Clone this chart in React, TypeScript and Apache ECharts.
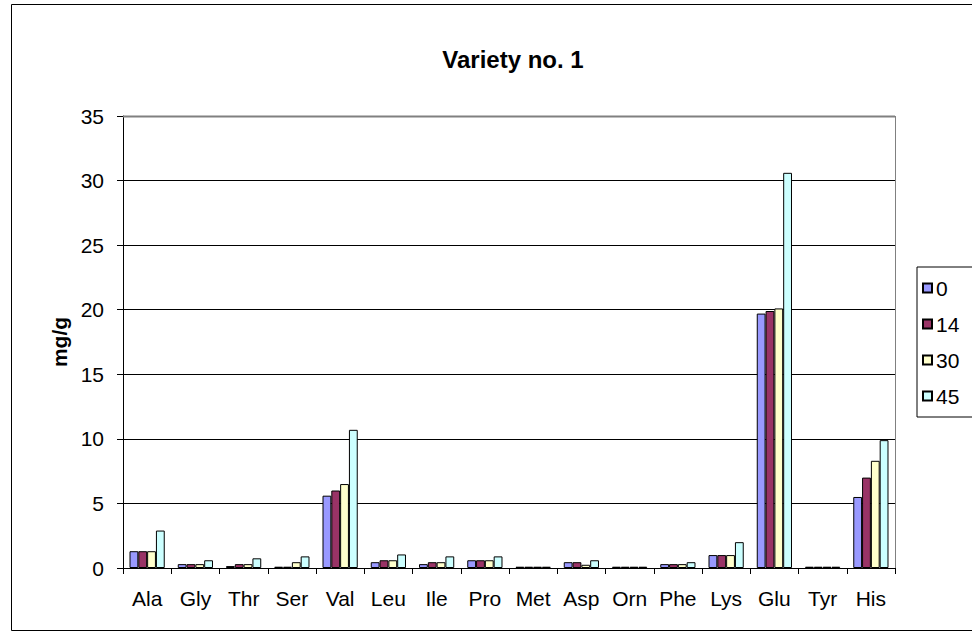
import React, { useEffect, useRef } from "react";
import * as echarts from "echarts";

const categories = ["Ala", "Gly", "Thr", "Ser", "Val", "Leu", "Ile", "Pro", "Met", "Asp", "Orn", "Phe", "Lys", "Glu", "Tyr", "His"];
const seriesNames = ["0", "14", "30", "45"];
const s0 = [1.3, 0.3, 0.15, 0.1, 5.6, 0.45, 0.3, 0.6, 0.1, 0.45, 0.1, 0.3, 1.0, 19.7, 0.1, 5.5];
const s14 = [1.3, 0.3, 0.3, 0.1, 6.0, 0.6, 0.45, 0.6, 0.1, 0.45, 0.1, 0.3, 1.0, 19.9, 0.1, 7.0];
const s30 = [1.3, 0.3, 0.3, 0.45, 6.5, 0.6, 0.45, 0.6, 0.1, 0.25, 0.1, 0.3, 1.0, 20.1, 0.1, 8.3];
const s45 = [2.9, 0.6, 0.75, 0.9, 10.7, 1.05, 0.9, 0.9, 0.1, 0.6, 0.1, 0.45, 2.0, 30.6, 0.1, 9.9];
const seriesValues = [s0, s14, s30, s45];
const colors = ["#9999FF", "#993366", "#FFFFCC", "#CCFFFF"];
const yTicks = { min: 0, max: 35, interval: 5 };

export default function App() {
  const ref = useRef<HTMLDivElement>(null);
  useEffect(() => {
    document.body.style.margin = "0";
    const chart = echarts.init(ref.current!, null, { renderer: "svg" });
    const font = "Liberation Sans, Arial, sans-serif";
    chart.setOption({
      animation: false,
      backgroundColor: "#ffffff",
      textStyle: { fontFamily: font },
      title: {
        text: "Variety no. 1",
        left: 508,
        textAlign: "center",
        top: 42,
        textStyle: { fontFamily: font, fontSize: 24, fontWeight: "bold", color: "#000" },
      },
      grid: { left: 123, top: 116, right: 77, bottom: 68, containLabel: false, show: false },
      legend: {
        orient: "vertical",
        left: 917,
        top: 267,
        data: seriesNames,
        itemWidth: 9,
        itemHeight: 9,
        itemGap: 14,
        icon: "rect",
        padding: [10, 40, 10, 5],
        borderColor: "#000",
        borderWidth: 1,
        textStyle: { fontFamily: font, fontSize: 21, color: "#000", lineHeight: 22, padding: [0, 0, 0, -1] },
      },
      xAxis: {
        type: "category",
        data: categories,
        axisLine: { lineStyle: { color: "#000", width: 1 } },
        axisTick: { show: true, length: 6, lineStyle: { color: "#000" } },
        axisLabel: { fontFamily: font, fontSize: 21, color: "#000", margin: 20, interval: 0, hideOverlap: false },
      },
      yAxis: {
        type: "value",
        min: yTicks.min,
        max: yTicks.max,
        interval: yTicks.interval,
        name: "mg/g",
        nameLocation: "middle",
        nameGap: 52,
        nameTextStyle: { fontFamily: font, fontSize: 21, fontWeight: "bold", color: "#000" },
        axisLine: { show: true, lineStyle: { color: "#000", width: 1 } },
        axisTick: { show: true, length: 6, lineStyle: { color: "#000" } },
        axisLabel: { fontFamily: font, fontSize: 21, color: "#000", margin: 19 },
        splitLine: { show: true, lineStyle: { color: "#000", width: 1 } },
      },
      graphic: [
        { type: "rect", left: 9, top: 2, shape: { x: 0, y: 0, width: 990, height: 626 }, style: { fill: "none", stroke: "#000", lineWidth: 1 }, silent: true, z: -1 },
        { type: "line", shape: { x1: 123, y1: 116.5, x2: 895, y2: 116.5 }, style: { stroke: "#808080", lineWidth: 2 }, z: 10 },
        { type: "line", shape: { x1: 895.5, y1: 116, x2: 895.5, y2: 568 }, style: { stroke: "#808080", lineWidth: 1 }, z: 10 },
      ],
      series: seriesNames.map((name, i) => ({
        name,
        type: "bar",
        data: seriesValues[i],
        barGap: "0%",
        barCategoryGap: "27%",
        itemStyle: { color: colors[i], borderColor: "#000", borderWidth: 1 },
      })),
    });
    return () => chart.dispose();
  }, []);
  return <div ref={ref} style={{ width: 972, height: 636 }} />;
}
